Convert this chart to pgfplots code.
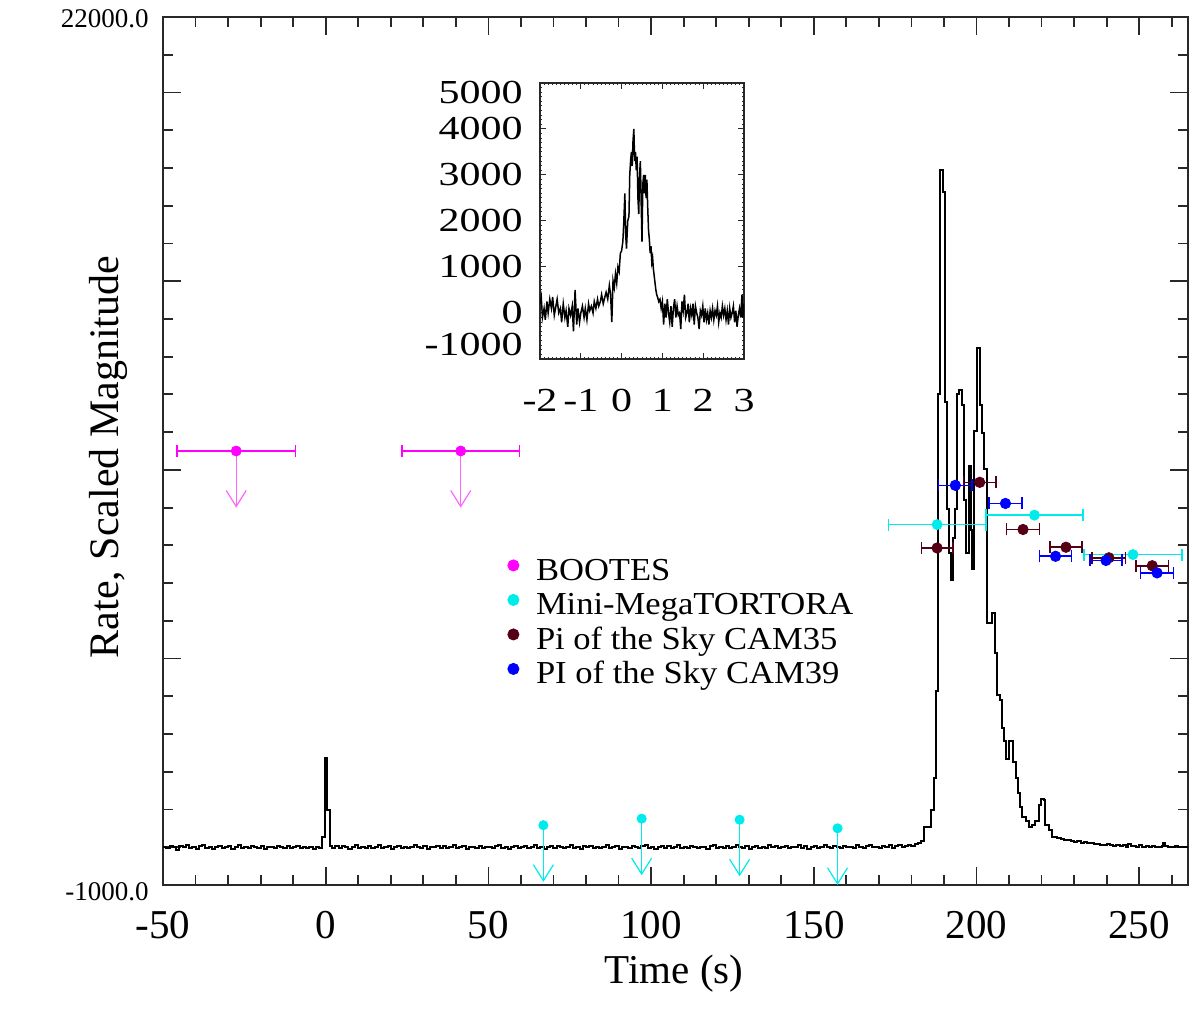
\documentclass[border=0pt]{standalone}
\usepackage{fontspec}
\setmainfont{Liberation Serif}
\newfontfamily\widefont[FakeStretch=1.25]{Liberation Serif}
\newfontfamily\legfont[FakeStretch=1.08]{Liberation Serif}
\usepackage{pgfplots}
\pgfplotsset{compat=1.18}
\usetikzlibrary{arrows.meta}
\definecolor{cmag}{RGB}{255,0,255}
\definecolor{cmaglt}{RGB}{255,100,255}
\definecolor{ccyan}{RGB}{0,235,235}
\definecolor{cmaroon}{RGB}{85,0,20}
\definecolor{cblue}{RGB}{0,0,255}
\definecolor{axcol}{RGB}{40,40,40}

\pgfplotstableread{
x y
-50 20
-49 -30
-48 40
-47 10
-46 -60
-45 30
-44 0
-43 50
-42 -20
-41 10
-40 -40
-39 30
-38 60
-37 -10
-36 20
-35 -50
-34 10
-33 40
-32 -20
-31 0
-30 30
-29 -40
-28 20
-27 50
-26 -10
-25 0
-24 -30
-23 40
-22 10
-21 -20
-20 30
-19 -50
-18 0
-17 20
-16 -30
-15 40
-14 10
-13 -20
-12 30
-11 -10
-10 0
-9 40
-8 -30
-7 10
-6 -20
-5 20
-4 -40
-3 10
-2 -10
-1 270
-0.3 2370
0.5 990
1.3 30
2 -10
3 30
4 -20
5 40
6 0
7 -40
8 20
9 50
10 -10
11 10
12 -30
13 40
14 -20
15 20
16 60
17 -10
18 0
19 30
20 -40
21 10
22 40
23 -20
24 20
25 -30
26 0
27 50
28 10
29 -20
30 30
31 -50
32 20
33 0
34 40
35 -10
36 30
37 -30
38 10
39 50
40 -20
41 0
42 30
43 -40
44 20
45 10
46 -10
47 40
48 -30
49 20
50 0
51 -20
52 30
53 50
54 -10
55 10
56 -40
57 20
58 40
59 -20
60 0
61 30
62 -30
63 10
64 60
65 -10
66 20
67 -40
68 10
69 40
70 -20
71 30
72 0
73 -30
74 20
75 50
76 -10
77 10
78 -40
79 30
80 0
81 40
82 -20
83 10
84 -30
85 20
86 50
87 -10
88 0
89 30
90 -40
91 20
92 10
93 -20
94 40
95 0
96 -30
97 30
98 60
99 -10
100 20
101 -40
102 10
103 40
104 -10
105 30
106 -30
107 0
108 50
109 -20
110 20
111 -10
112 40
113 0
114 -30
115 20
116 10
117 -40
118 30
119 50
120 -20
121 10
122 -10
123 40
124 -30
125 20
126 60
127 0
128 -20
129 30
130 -40
131 10
132 40
133 -10
134 20
135 -30
136 50
137 0
138 30
139 -20
140 10
141 40
142 -30
143 20
144 0
145 50
146 -10
147 30
148 -40
149 10
150 40
151 -20
152 20
153 60
154 0
155 -30
156 30
157 10
158 -20
159 40
160 0
161 20
162 -30
163 50
164 10
165 -10
166 30
167 60
168 0
169 20
170 -20
171 40
172 10
173 50
174 -10
175 30
176 60
177 20
178 40
179 70
180 40
181 80
182 100
183 160
183.8 545
186.1 990
186.9 1840
187.4 4130
188.1 12000
188.9 17950
189.8 17370
190.3 11790
191.0 8950
191.5 7810
192.2 7070
192.8 8200
193.5 8950
194.1 12020
194.6 12115
195.4 11730
196.1 9200
196.9 7800
197.6 10100
198.2 8400
198.7 7360
199.3 11030
200.2 13220
201.0 11730
201.7 10990
202.4 10010
203.1 5950
204.8 6220
205.8 5150
206.3 4040
207.1 3900
207.8 3165
208.6 2820
209.2 2340
209.9 2820
211.3 2250
212.0 1840
212.7 1440
213.3 1070
214.0 800
215.1 700
216.1 540
217.1 600
218.1 700
219.1 1120
219.9 1280
220.7 1250
221.2 600
222.2 460
223.3 270
224.8 250
226 230
227 200
228 190
229 170
230 150
231 160
232 120
233 130
234 100
235 110
236 80
237 90
238 70
239 60
240 80
241 50
242 40
243 60
244 30
245 50
246 20
246.5 80
247.5 30
248 40
249 10
250 50
251 20
252 40
253 0
254 30
255 20
256 10
257 40
257.4 100
258 30
259 20
260 10
261 30
262 0
263 20
264 10
265 10
}\lightcurve

\pgfplotstableread{
x y
-2.00 200
-1.97 350
-1.94 -100
-1.90 100
-1.87 -150
-1.83 250
-1.80 0
-1.76 300
-1.72 100
-1.69 350
-1.65 -50
-1.61 150
-1.58 300
-1.54 0
-1.50 100
-1.47 -200
-1.43 200
-1.39 -100
-1.36 50
-1.32 -300
-1.29 100
-1.25 -50
-1.21 150
-1.18 -400
-1.14 500
-1.10 -250
-1.07 100
-1.03 -200
-1.00 0
-0.96 150
-0.92 -100
-0.89 100
-0.85 -150
-0.81 200
-0.78 50
-0.74 150
-0.70 0
-0.67 250
-0.63 100
-0.59 300
-0.56 150
-0.52 250
-0.49 400
-0.45 200
-0.41 350
-0.38 450
-0.34 300
-0.30 600
-0.27 400
-0.24 -200
-0.21 700
-0.18 550
-0.15 850
-0.12 650
-0.09 1000
-0.06 900
-0.03 1300
0.00 1350
0.03 1550
0.05 1900
0.08 2600
0.10 1700
0.12 1400
0.15 2000
0.18 2100
0.20 3000
0.22 3300
0.24 3500
0.26 3200
0.28 3750
0.30 4000
0.32 3300
0.34 3500
0.36 3100
0.38 3400
0.40 2500
0.42 2150
0.44 3000
0.46 3300
0.48 2400
0.50 1550
0.52 2800
0.54 3000
0.56 2600
0.58 3000
0.60 2500
0.62 2900
0.64 2300
0.66 1800
0.68 1600
0.70 1300
0.72 1450
0.74 1100
0.76 1200
0.78 950
0.80 800
0.82 650
0.84 500
0.86 400
0.88 350
0.91 250
0.94 300
0.97 100
1.00 250
1.03 -250
1.06 200
1.09 -100
1.12 300
1.15 0
1.18 -200
1.21 150
1.24 -300
1.27 100
1.30 300
1.33 -100
1.36 150
1.39 -50
1.42 0
1.45 -350
1.48 250
1.51 50
1.54 400
1.57 -100
1.60 0
1.63 200
1.66 -200
1.69 100
1.72 -50
1.75 200
1.78 -250
1.81 150
1.84 0
1.87 -100
1.90 -350
1.93 50
1.96 -50
1.99 150
2.02 -200
2.05 100
2.08 -150
2.11 0
2.14 -250
2.17 50
2.20 -100
2.23 100
2.26 -150
2.29 50
2.32 -50
2.35 150
2.38 -200
2.41 0
2.44 -100
2.47 150
2.50 -50
2.53 100
2.56 -150
2.59 50
2.62 -250
2.65 100
2.68 -100
2.71 0
2.74 150
2.77 -200
2.80 50
2.83 -300
2.86 -50
2.89 100
2.92 -100
2.95 400
2.97 -100
3.00 200
}\insetcurve

\begin{document}
\begin{tikzpicture}
\useasboundingbox (0,0) rectangle (600pt,514.5pt);
\begin{axis}[
  at={(81.5pt,72pt)}, anchor=south west, scale only axis,
  width=512.5pt, height=434pt,
  xmin=-50, xmax=265, ymin=-1000, ymax=22000,
  clip=false,
  axis line style={line width=1pt, axcol},
  tick align=inside,
  xtick={-50,0,50,100,150,200,250},
  xticklabels={-50,0,50,100,150,200,250},
  minor xtick={-40,-30,...,260},
  ytick={-1000,0,5000,10000,15000,20000,22000},
  yticklabels={\raisebox{-7.5pt}[0pt][0pt]{-1000.0},,,,,,\raisebox{-5.5pt}[0pt][0pt]{22000.0}},
  minor ytick={1000,2000,...,21000},
  major tick length=9pt, minor tick length=5pt,
  every tick/.style={axcol, line width=0.9pt},
  xticklabel style={font=\fontsize{20.5}{22}\selectfont, anchor=base, yshift=-27pt, inner sep=0pt},
  yticklabel style={font=\fontsize{13.5}{14}\selectfont, anchor=east, xshift=-7pt, inner sep=0pt},
  xlabel={Time (s)},
  ylabel={Rate, Scaled Magnitude},
  every axis x label/.style={at={(axis description cs:0.4985,-0.114)}, anchor=base, font=\fontsize{20.5}{22}\selectfont},
  every axis y label/.style={at={(axis description cs:-0.0439,0.493)}, anchor=base, rotate=90, font=\fontsize{21}{22}\selectfont},
  legend style={at={(axis description cs:0.336,0.3767)}, anchor=north west, draw=none, fill=none, inner sep=0pt,
    font=\legfont\fontsize{16}{17}\selectfont, row sep=2.25pt,
    nodes={inner sep=0pt, text height=11pt, text depth=4pt},
    /tikz/every odd column/.append style={column sep=8.5pt}},
  legend cell align=left,
  legend image code/.code={\draw[#1] plot coordinates {(0pt,4pt)};},
]
\addlegendimage{only marks, mark=*, mark size=2.8pt, cmag}
\addlegendentry{BOOTES}
\addlegendimage{only marks, mark=*, mark size=2.8pt, ccyan}
\addlegendentry{Mini-MegaTORTORA}
\addlegendimage{only marks, mark=*, mark size=2.8pt, cmaroon}
\addlegendentry{Pi of the Sky CAM35}
\addlegendimage{only marks, mark=*, mark size=2.8pt, cblue}
\addlegendentry{PI of the Sky CAM39}

\addplot[forget plot, const plot, line width=1pt, black] table {\lightcurve};

% BOOTES upper limits
\addplot[forget plot, cmaglt, line width=0.6pt, -{Straight Barb[length=8pt,width=10pt]}, quiver={u=0,v=-1500}] coordinates {(-27.5,10500) (41.5,10500)};
\addplot[forget plot, only marks, mark=*, mark size=2.5pt, color=cmag,
  error bars/.cd, x dir=both, x explicit, error bar style={line width=0.8pt, cmag},
  error mark options={rotate=90, mark size=3pt, line width=0.8pt, cmag}]
  coordinates {(-27.5,10500) +- (18.2,0) (41.5,10500) +- (18,0)};

% Mini-MegaTORTORA upper limits
\addplot[forget plot, ccyan, line width=0.6pt, -{Straight Barb[length=8pt,width=10pt]}, quiver={u=0,v=-1500}] coordinates {(66.9,584) (97.1,759) (127.2,730) (157.3,502)};
\addplot[forget plot, only marks, mark=*, mark size=2.3pt, color=ccyan] coordinates {(66.9,584) (97.1,759) (127.2,730) (157.3,502)};

% Mini-MegaTORTORA detections
\addplot[forget plot, only marks, mark=*, mark size=2.5pt, color=ccyan,
  error bars/.cd, x dir=both, x explicit, error bar style={line width=0.8pt, ccyan},
  error mark options={rotate=90, mark size=3pt, line width=0.8pt, ccyan}]
  coordinates {(187.9,8550) +- (15,0) (217.8,8800) +- (14.9,0) (248.1,7755) +- (15.1,0)};

% Pi of the Sky CAM35
\addplot[forget plot, only marks, mark=*, mark size=2.6pt, color=cmaroon,
  error bars/.cd, x dir=both, x explicit, error bar style={line width=0.8pt, cmaroon},
  error mark options={rotate=90, mark size=3pt, line width=0.8pt, cmaroon}]
  coordinates {(187.9,7930) +- (4.85,0) (201.0,9670) +- (5,0) (214.3,8420) +- (5.1,0)
               (227.5,7950) +- (5,0) (240.7,7670) +- (5.15,0) (254.0,7460) +- (5,0)};

% PI of the Sky CAM39
\addplot[forget plot, only marks, mark=*, mark size=2.6pt, color=cblue,
  error bars/.cd, x dir=both, x explicit, error bar style={line width=0.8pt, cblue},
  error mark options={rotate=90, mark size=3pt, line width=0.8pt, cblue}]
  coordinates {(193.5,9590) +- (5.15,0) (208.9,9110) +- (5.1,0) (224.3,7710) +- (4.9,0)
               (239.8,7600) +- (4.9,0) (255.5,7270) +- (5.1,0)};
\end{axis}

\begin{axis}[
  at={(270pt,335pt)}, anchor=south west, scale only axis,
  width=102pt, height=138pt,
  xmin=-2, xmax=3, ymin=-1000, ymax=5000,
  axis line style={line width=0.6pt, axcol},
  tick align=inside,
  xtick={-2,-1,0,1,2,3},
  xticklabels={-2,-1,0,1,2,3},
  ytick={-1000,0,1000,2000,3000,4000,5000},
  yticklabels={\raisebox{1.5pt}[0pt][0pt]{-1000},\raisebox{-5.5pt}[0pt][0pt]{0},\raisebox{-5.5pt}[0pt][0pt]{1000},\raisebox{-5.5pt}[0pt][0pt]{2000},\raisebox{-5.5pt}[0pt][0pt]{3000},\raisebox{-5.5pt}[0pt][0pt]{4000},\raisebox{-10.5pt}[0pt][0pt]{5000}},
  minor x tick num=9, minor y tick num=9,
  major tick length=3pt, minor tick length=1.2pt,
  every tick/.style={axcol, line width=0.5pt},
  xticklabel style={font=\widefont\fontsize{16.8}{17}\selectfont, anchor=base, yshift=-26.5pt, inner sep=0pt},
  yticklabel style={font=\widefont\fontsize{16.8}{17}\selectfont, anchor=east, xshift=-8.5pt, inner sep=0pt},
]
\addplot[sharp plot, line width=0.75pt, black] table {\insetcurve};
\end{axis}
\end{tikzpicture}
\end{document}
